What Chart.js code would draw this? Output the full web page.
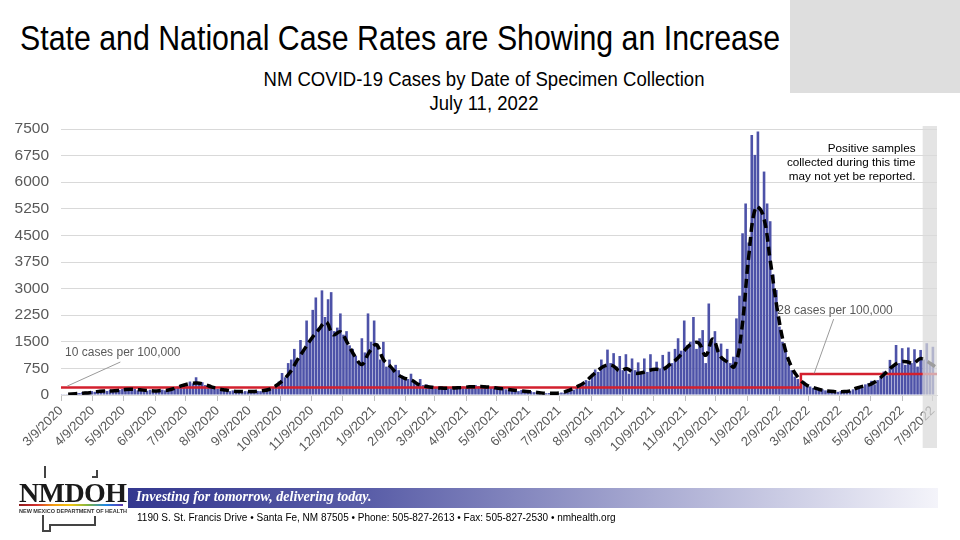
<!DOCTYPE html>
<html>
<head>
<meta charset="utf-8">
<script src="https://cdn.jsdelivr.net/npm/chart.js@4.4.0/dist/chart.umd.min.js"></script>
<style>
  body { margin:0; width:960px; height:540px; position:relative; background:#fff; overflow:hidden;
         font-family:'Liberation Sans', Arial, sans-serif; }
  .abs { position:absolute; white-space:nowrap; }
  #slideTitle { left:20px; top:20px; font-size:35px; line-height:35px; color:#000; transform-origin:left top; }
  #greyBox { left:790px; top:0; width:170px; height:93px; background:#dedede; }
  .tituloGrafico { left:484px; font-size:20px; line-height:20px; color:#000; }
  #chartWrap { left:0; top:100px; }
  #logo { left:19px; top:477px; font-family:'Liberation Serif',serif; font-weight:bold; font-size:28px; letter-spacing:-0.6px; color:#1a1a1a; }
  #stripe { left:19px; top:504px; width:104px; height:2px;
            background:linear-gradient(to right,#8b1a1a,#d32f2f,#f39c12,#f1c40f,#7cb342,#1e88e5,#5e35b1); }
  #dept { left:19px; top:508px; font-size:5.5px; font-weight:bold; color:#333; }
  #band { left:128px; top:488px; width:810px; height:20px;
          background:linear-gradient(to right,#34388f 0%,#5a5ea8 30%,#a9abd2 65%,#f4f4fa 100%); }
  #motto { left:136px; top:489px; font-family:'Liberation Serif',serif; font-style:italic; font-weight:bold;
           font-size:14px; color:#fff; }
  #address { left:137px; top:512px; font-size:10px; color:#000; }
  svg { position:absolute; left:0; top:0; }
</style>
</head>
<body>
<div id="greyBox" class="abs"></div>
<div id="slideTitle" class="abs">State and National Case Rates are Showing an Increase</div>
<div id="tituloL1" class="abs tituloGrafico" style="top:69px">NM COVID-19 Cases by Date of Specimen Collection</div>
<div id="tituloL2" class="abs tituloGrafico" style="top:93px">July 11, 2022</div>
<div id="chartWrap" class="abs"><canvas id="grafico" width="960" height="370"></canvas></div>

<svg width="960" height="540">
  <polyline points="45,466 45,478" stroke="#444" stroke-width="2" fill="none"/>
  <polyline points="92,477 97,477 97,470" stroke="#444" stroke-width="2" fill="none"/>
  <polyline points="43,515 43,531 50,531 50,525 95,525 95,516" stroke="#444" stroke-width="2" fill="none"/>
</svg>
<div id="logo" class="abs">NMDOH</div>
<div id="stripe" class="abs"></div>
<div id="dept" class="abs">NEW MEXICO DEPARTMENT OF HEALTH</div>
<div id="band" class="abs"></div>
<div id="motto" class="abs">Investing for tomorrow, delivering today.</div>
<div id="address" class="abs">1190 S. St. Francis Drive &bull; Santa Fe, NM 87505 &bull; Phone: 505-827-2613 &bull; Fax: 505-827-2530 &bull; nmhealth.org</div>

<script>
// Eixo X: rótulos mensais
const rotulosMeses = ['3/9/2020','4/9/2020','5/9/2020','6/9/2020','7/9/2020','8/9/2020','9/9/2020',
    '10/9/2020','11/9/2020','12/9/2020','1/9/2021','2/9/2021','3/9/2021','4/9/2021','5/9/2021',
    '6/9/2021','7/9/2021','8/9/2021','9/9/2021','10/9/2021','11/9/2021','12/9/2021','1/9/2022',
    '2/9/2022','3/9/2022','4/9/2022','5/9/2022','6/9/2022','7/9/2022'];

// Casos diarios (um valor a cada 3 dias, a partir de 3/9/2020)
const passoBarras = 3;
const casos = [
    5, 10, 20, 30, 45, 60, 55, 80, 95, 70,
    110, 90, 130, 100, 140, 115, 150, 120, 110, 145,
    170, 140, 190, 150, 180, 130, 160, 140, 120, 150,
    110, 130, 100, 150, 130, 170, 150, 210, 240, 200,
    310, 280, 380, 330, 500, 300, 360, 280, 260, 230,
    200, 170, 180, 130, 150, 110, 130, 100, 120, 90,
    110, 100, 120, 90, 115, 110, 150, 130, 180, 220,
    280, 380, 620, 500, 900, 1000, 1300, 950, 1550, 1250,
    2100, 1500, 2400, 2750, 1900, 2950, 2200, 2700, 2900, 1800,
    1900, 2300, 1700, 1800, 1400, 1300, 1100, 900, 1600, 1200,
    2300, 1500, 2100, 1450, 1000, 1500, 800, 1000, 700, 850,
    700, 550, 500, 450, 600, 400, 330, 450, 280, 300,
    250, 260, 220, 200, 250, 180, 210, 190, 170, 230,
    200, 240, 210, 260, 230, 280, 250, 210, 270, 230,
    200, 240, 190, 170, 210, 160, 140, 170, 130, 110,
    140, 100, 90, 110, 80, 90, 60, 70, 50, 55,
    45, 60, 50, 70, 65, 90, 120, 150, 200, 260,
    320, 420, 400, 600, 720, 650, 1000, 850, 1280, 900,
    1180, 800, 1100, 700, 1150, 600, 1030, 700, 920, 620,
    1030, 650, 1150, 700, 940, 750, 1130, 800, 1220, 900,
    1300, 1600, 1250, 2100, 1400, 1500, 2200, 1300, 1600, 1830,
    900, 2580, 1500, 1800, 1300, 1450, 1000, 1300, 900, 1080,
    2160, 2800, 4560, 5400, 4300, 7330, 6770, 7430, 5200, 6300,
    5400, 4900, 3400, 2960, 1930, 1500, 1270, 900, 700, 520,
    450, 330, 380, 260, 240, 200, 180, 150, 160, 130,
    110, 100, 120, 90, 110, 100, 130, 120, 160, 200,
    250, 220, 300, 330, 400, 300, 420, 500, 660, 550,
    990, 800, 1410, 900, 1320, 850, 1340, 900, 1290, 800,
    1270, 1000, 1460, 900, 1360
];

// Media movel (um valor por semana)
const passoMedia = 7;
const mediaMovel = [
    null, 20, 35, 50, 66, 95, 110, 115, 130, 155,
    160, 145, 130, 115, 125, 140, 200, 270, 320, 335,
    300, 230, 170, 140, 110, 100, 100, 100, 120, 155,
    260, 420, 650, 990, 1300, 1600, 1850, 2060, 1700, 1780,
    1460, 1100, 860, 1200, 1420, 1000, 800, 580, 470, 410,
    290, 240, 210, 195, 190, 200, 210, 230, 235, 235,
    220, 190, 165, 140, 120, 100, 85, 60, 47, 50,
    70, 140, 230, 340, 520, 700, 830, 830, 680, 740,
    620, 625, 690, 725, 720, 860, 1020, 1250, 1440, 1470,
    1120, 1580, 1100, 930, 800, 1800, 3900, 5300, 5080, 3800,
    2400, 1360, 780, 470, 290, 210, 150, 110, 95, 95,
    110, 190, 250, 300, 420, 600, 790, 920, 940, 890,
    1030, 940, 800
];

// Limiares (10 e 28 casos por 100.000)
const limiarDias = [0, 723, 856];
const limiarValores = [210, 590, 590];

const diaFinal = 856;
const inicioNaoReportado = 842;

const dia0 = Date.UTC(2020, 2, 9);
const diasMeses = rotulosMeses.map(r => {
    const [m, d, a] = r.split('/').map(Number);
    return Math.round((Date.UTC(a, m - 1, d) - dia0) / 86400000);
});

// Titulos: fonte condensada simulada com scaleX
const titulo = document.getElementById('slideTitle');
titulo.style.transform = 'scaleX(' + (760 / titulo.getBoundingClientRect().width) + ')';
const l1 = document.getElementById('tituloL1');
const l2 = document.getElementById('tituloL2');
const kTitulo = 441 / l1.getBoundingClientRect().width;
[l1, l2].forEach(el => {
    el.style.transformOrigin = 'left top';
    el.style.transform = 'scaleX(' + kTitulo + ') translateX(-50%)';
});

const fonte = "'Liberation Sans', Arial, sans-serif";

const anotacoes = {
    id: 'anotacoes',
    afterDatasetsDraw(chart) {
        const { ctx, chartArea, scales: { x, y } } = chart;
        ctx.save();
        // faixa cinza: amostras ainda nao reportadas
        const x0 = x.getPixelForValue(inicioNaoReportado);
        ctx.fillStyle = 'rgba(217,217,217,0.72)';
        ctx.fillRect(x0, chartArea.top - 3, chartArea.right - x0, chartArea.bottom - chartArea.top + 56);

        // linhas de chamada
        ctx.strokeStyle = '#9a9a9a';
        ctx.lineWidth = 1;
        ctx.beginPath();
        ctx.moveTo(x.getPixelForValue(58), y.getPixelForValue(930));
        ctx.lineTo(x.getPixelForValue(6), y.getPixelForValue(250));
        ctx.moveTo(x.getPixelForValue(755), y.getPixelForValue(2140));
        ctx.lineTo(x.getPixelForValue(736), y.getPixelForValue(610));
        ctx.stroke();

        ctx.fillStyle = '#595959';
        ctx.font = '12px ' + fonte;
        ctx.textBaseline = 'middle';
        ctx.textAlign = 'left';
        ctx.fillText('10 cases per 100,000', x.getPixelForValue(4), y.getPixelForValue(1190));
        ctx.fillText('28 cases per 100,000', x.getPixelForValue(700), y.getPixelForValue(2370));

        ctx.fillStyle = '#000';
        ctx.font = '11.7px ' + fonte;
        ctx.textAlign = 'right';
        const xr = x.getPixelForValue(835);
        ctx.fillText('Positive samples', xr, y.getPixelForValue(6940));
        ctx.fillText('collected during this time', xr, y.getPixelForValue(6540));
        ctx.fillText('may not yet be reported.', xr, y.getPixelForValue(6140));
        ctx.restore();
    }
};

new Chart(document.getElementById('grafico').getContext('2d'), {
    data: {
        datasets: [
            {
                type: 'line',
                label: 'Media movel',
                data: mediaMovel.map((v, i) => ({ x: i * passoMedia, y: v })),
                borderColor: '#000',
                borderWidth: 3.5,
                borderDash: [9, 5],
                tension: 0.4,
                pointRadius: 0,
                order: 0,
            },
            {
                type: 'line',
                label: 'Limiar',
                data: limiarDias.map((d, i) => ({ x: d, y: limiarValores[i] })),
                borderColor: '#d3202e',
                borderWidth: 2.5,
                stepped: true,
                pointRadius: 0,
                order: 1,
            },
            {
                type: 'bar',
                label: 'Casos',
                data: casos.map((v, i) => ({ x: i * passoBarras, y: v })),
                backgroundColor: '#4d52a8',
                barPercentage: 0.85,
                categoryPercentage: 1,
                order: 2,
            },
        ]
    },
    options: {
        responsive: false,
        animation: false,
        layout: { padding: { top: 29, right: 23, left: 0, bottom: 0 } },
        plugins: { legend: { display: false }, title: { display: false }, tooltip: { enabled: false } },
        scales: {
            x: {
                type: 'linear',
                offset: false,
                min: 0,
                max: diaFinal,
                afterBuildTicks: s => { s.ticks = diasMeses.map(v => ({ value: v })); },
                afterFit: s => { s.height = 75; s.paddingLeft = 0; s.paddingRight = 0; },
                ticks: {
                    autoSkip: false,
                    maxRotation: 45,
                    minRotation: 45,
                    padding: 2,
                    color: '#595959',
                    font: { size: 13, family: fonte },
                    callback: (v, i) => rotulosMeses[i],
                },
                grid: { offset: false, drawOnChartArea: false, tickLength: 6, color: '#bfbfbf' },
                border: { color: '#d9d9d9' },
            },
            y: {
                min: 0,
                max: 7500,
                afterFit: s => { s.width = 61; },
                ticks: {
                    stepSize: 750,
                    padding: 12,
                    color: '#595959',
                    font: { size: 15.5, family: fonte },
                    callback: v => v,
                },
                grid: { color: '#d9d9d9', drawTicks: false },
                border: { display: false },
            }
        }
    },
    plugins: [anotacoes]
});
</script>
</body>
</html>
